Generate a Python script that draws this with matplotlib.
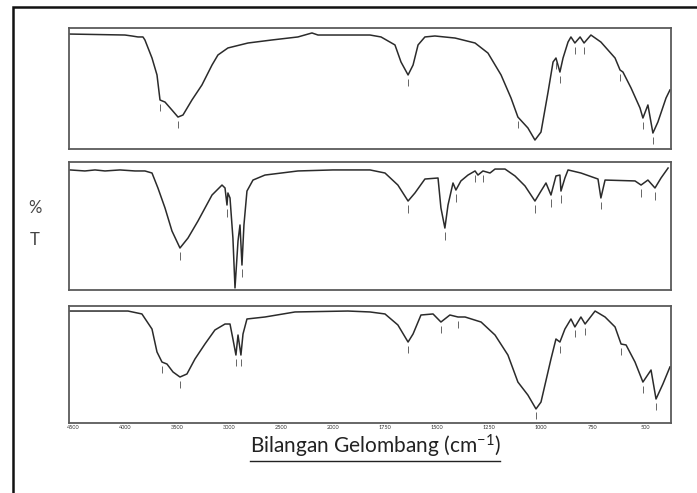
import numpy as np
import matplotlib
matplotlib.use("Agg")
import matplotlib.pyplot as plt
from matplotlib.lines import Line2D
from matplotlib.patches import Rectangle

plt.rcParams['font.family'] = ['Lato', 'DejaVu Sans']
plt.rcParams['mathtext.fontset'] = 'custom'
plt.rcParams['mathtext.rm'] = 'Lato'
plt.rcParams['mathtext.it'] = 'Lato'

# ---- data: wavenumber (cm-1) and %T for three FTIR spectra ----
wn1 = [4529, 4000, 3933, 3875, 3827, 3808, 3740, 3692, 3663, 3615, 3548, 3490, 3442, 3356,
       3260, 3163, 3106, 3010, 2817, 2587, 2337, 2202, 2144, 2000, 1822, 1769, 1702, 1673,
       1639, 1615, 1591, 1558, 1510, 1413, 1317, 1255, 1192, 1144, 1111, 1063, 1029, 1000,
       966, 942, 928, 909, 894, 870, 856, 837, 812, 793, 760, 712, 644, 620, 606, 567, 524,
       510, 486, 462, 438, 399, 380]
t1 = [95.0, 94.2, 93.4, 92.6, 92.6, 90.1, 75.2, 61.2, 40.5, 38.8, 32.2, 26.4, 28.1, 40.5,
      52.9, 69.4, 77.7, 83.5, 87.6, 90.1, 92.6, 95.9, 94.2, 94.2, 94.2, 92.6, 86.0, 71.9,
      61.2, 69.4, 86.0, 92.6, 93.4, 91.7, 87.6, 79.3, 61.2, 42.1, 26.4, 17.4, 7.4, 14.0,
      47.1, 71.9, 75.2, 63.6, 75.2, 88.4, 92.6, 87.6, 92.6, 87.6, 94.2, 88.4, 75.2, 65.3,
      63.6, 50.4, 33.9, 25.6, 36.4, 13.2, 22.3, 42.1, 48.8]

wn2 = [4529, 4385, 4288, 4192, 4048, 3904, 3808, 3740, 3683, 3615, 3548, 3471, 3394, 3298,
       3163, 3067, 3038, 3019, 3010, 2990, 2962, 2942, 2913, 2894, 2875, 2856, 2827, 2769,
       2654, 2337, 2000, 1822, 1750, 1688, 1639, 1606, 1558, 1495, 1481, 1462, 1447, 1423,
       1409, 1385, 1351, 1317, 1303, 1279, 1245, 1221, 1173, 1125, 1077, 1029, 1000, 976,
       952, 928, 909, 904, 885, 870, 808, 726, 712, 692, 548, 519, 486, 452, 423, 389]
t2 = [93.8, 93.0, 93.8, 93.0, 93.8, 93.0, 93.0, 91.4, 79.7, 64.1, 46.1, 32.8, 40.6, 53.9,
      74.2, 82.0, 79.7, 66.4, 75.8, 71.9, 40.6, 1.6, 38.3, 50.8, 19.5, 50.8, 77.3, 85.9,
      89.8, 93.0, 93.8, 93.8, 91.4, 82.0, 69.5, 75.8, 86.7, 87.5, 64.1, 48.4, 66.4, 83.6,
      78.1, 85.2, 89.8, 93.0, 89.8, 93.0, 91.4, 94.5, 94.5, 89.1, 81.3, 69.5, 77.3, 83.6,
      74.2, 89.1, 89.8, 77.3, 87.5, 93.8, 91.4, 86.7, 71.9, 85.9, 85.2, 82.0, 85.9, 79.7,
      87.5, 95.3]

wn3 = [4529, 3971, 3837, 3740, 3692, 3644, 3596, 3538, 3471, 3404, 3327, 3231, 3135, 3038,
       2990, 2962, 2933, 2913, 2885, 2865, 2827, 2654, 2365, 1928, 1822, 1750, 1688, 1639,
       1615, 1577, 1519, 1481, 1438, 1399, 1365, 1288, 1221, 1159, 1111, 1063, 1024, 1000,
       952, 928, 909, 885, 856, 837, 808, 788, 740, 692, 644, 615, 591, 548, 510, 471, 447,
       414, 380]
t3 = [95.7, 95.7, 93.2, 80.3, 60.7, 52.1, 50.4, 43.6, 39.3, 41.9, 54.7, 67.5, 79.5, 84.6,
      84.6, 71.8, 58.1, 75.2, 58.1, 76.1, 88.9, 90.6, 94.9, 95.7, 94.9, 93.2, 83.8, 69.2,
      76.1, 92.3, 93.2, 86.3, 92.3, 90.6, 90.6, 86.3, 75.2, 58.1, 35.0, 23.9, 12.0, 17.9,
      54.7, 71.8, 69.2, 80.3, 88.9, 82.1, 90.6, 84.6, 95.7, 90.6, 82.1, 67.5, 66.7, 52.1,
      35.0, 45.3, 20.5, 33.3, 47.9]

# peak marker positions (wavenumber) for each spectrum
peaks1 = [3663, 3490, 1639, 1111, 928, 909, 837, 793, 620, 510, 462]
peaks2 = [3471, 3019, 2942, 2875, 1639, 1462, 1409, 1317, 1279, 1029, 952, 904, 712, 519, 452]
peaks3 = [3644, 3471, 2933, 2885, 1639, 1481, 1399, 1024, 909, 837, 788, 615, 510, 447]

tick_vals = [4500, 4000, 3500, 3000, 2500, 2000, 1750, 1500, 1250, 1000, 750, 500]
tick_labels = [str(v) for v in tick_vals]
x_label = "Bilangan Gelombang (cm$^{-1}$)"
y_label_top = "%"
y_label_bot = "T"


# Shimadzu-style axis: 500 cm-1 per division above 2000, 250 cm-1 below
# (increasing function of wavenumber; the axis limits are inverted)
def fwd(w):
    w = np.asarray(w, dtype=float)
    return -np.where(w >= 2000, (4500 - w) / 500.0, 5 + (2000 - w) / 250.0)


def inv(q):
    p = -np.asarray(q, dtype=float)
    return np.where(p <= 5, 4500 - 500.0 * p, 2000 - 250.0 * (p - 5))


W, H = 697, 493
fig = plt.figure(figsize=(W / 100, H / 100), dpi=100)

frame_col = '#5a5a5a'
line_col = '#2b2b2b'

panels = [  # (top_px, bottom_px)
    (28, 149),
    (162, 290),
    (306, 423),
]
data = [(wn1, t1, peaks1), (wn2, t2, peaks2), (wn3, t3, peaks3)]
left_px, right_px = 69, 671

axes = []
for (top, bot), (wn, tt, pk) in zip(panels, data):
    ax = fig.add_axes([left_px / W, 1 - bot / H, (right_px - left_px) / W, (bot - top) / H])
    ax.set_xscale('function', functions=(fwd, inv))
    ax.set_xlim(4538, 375)
    ax.set_ylim(0, 100)
    ax.plot(wn, tt, color=line_col, lw=1.1, solid_joinstyle='round')
    # peak markers
    wn_a = np.array(wn, dtype=float)
    order = np.argsort(wn_a)
    for p in pk:
        yv = np.interp(p, wn_a[order], np.array(tt)[order])
        ax.vlines(p, yv - 9, yv - 3, color='#666666', lw=0.7)
    for s in ax.spines.values():
        s.set_color(frame_col)
        s.set_linewidth(1.3)
    ax.set_yticks([])
    ax.set_xticks([])
    axes.append(ax)

ax3 = axes[2]
ax3.set_xticks(tick_vals)
ax3.set_xticklabels(tick_labels, fontsize=4, color='#333333')
ax3.tick_params(axis='x', length=0, pad=1.5)

# outer frame (left and top visible)
fig.add_artist(Rectangle((13 / W, -0.1), 1.2, 1.1 - 7 / H, transform=fig.transFigure,
                         fill=False, edgecolor='#111111', lw=1.8))

fig.text(35 / W, 1 - 208 / H, y_label_top, ha='center', va='center', fontsize=12, color='#444444')
fig.text(35 / W, 1 - 240 / H, y_label_bot, ha='center', va='center', fontsize=12, color='#444444')

xl = fig.text(375 / W, 1 - 446 / H, x_label, ha='center', va='center', fontsize=15, color='#222222')
fig.canvas.draw()
bb = xl.get_window_extent(renderer=fig.canvas.get_renderer())
uy = 1 - 461 / H
fig.add_artist(Line2D([bb.x0 / W, bb.x1 / W], [uy, uy], transform=fig.transFigure,
                      color='#222222', lw=1.0))

fig.savefig('out.png', dpi=100)
